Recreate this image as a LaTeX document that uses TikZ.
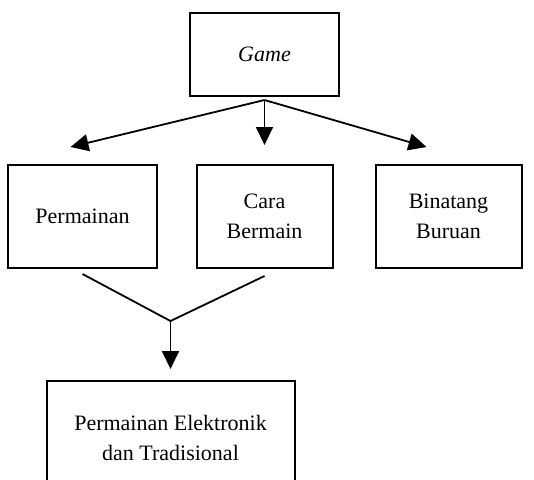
\documentclass[tikz,border=0pt]{standalone}
\usepackage{fontspec}
\setmainfont{Liberation Serif}
\usetikzlibrary{positioning,arrows.meta}

\begin{document}
\begin{tikzpicture}[x=0.5pt,y=-0.5pt,node distance=81pt,on grid,
   box/.style={draw, line width=1pt, align=center, inner sep=0pt,
               minimum height=51.5pt, font=\fontsize{11}{15}\selectfont},
   link/.style={line width=0.9pt},
   arr/.style={link, -{Triangle[length=9pt,width=8.5pt]}}]
   \useasboundingbox (0,0) rectangle (534,479);

   \node[box, minimum width=74.5pt, minimum height=41.5pt] (game) at (264.5,54.5) {\itshape Game};
   \node[box, minimum width=68pt]   (cara)      [below=81pt of game] {Cara\\Bermain};
   \node[box, minimum width=74.5pt] (permainan) [left=91pt of cara]  {Permainan};
   \node[box, minimum width=73pt]   (binatang)  [right=92pt of cara] {Binatang\\Buruan};
   \node[box, minimum width=124pt, minimum height=57pt] (jenis) [below left=110.75pt and 47pt of cara]
        {Permainan Elektronik\\dan Tradisional};

   \coordinate[below=1.5pt of game.south] (split);
   \coordinate[above left=8.5pt and 6pt of permainan.north] (tipL);
   \coordinate[above=9.5pt of cara.north] (tipM);
   \coordinate[above right=8.5pt and 81pt of cara.north] (tipR);

   \coordinate[below=2.5pt of permainan.south] (fromL);
   \coordinate[below=3.5pt of cara.south] (fromR);
   \coordinate (joinup) at (fromL -| jenis.north);
   \coordinate[below=23.5pt of joinup] (join);
   \coordinate[above=5.5pt of jenis.north] (tipB);

   \draw[arr] (split) -- (tipL);
   \draw[arr] (split) -- (tipM);
   \draw[arr] (split) -- (tipR);

   \draw[link] (fromL) -- (join) -- (fromR);
   \draw[arr]  (join) -- (tipB);
\end{tikzpicture}
\end{document}
